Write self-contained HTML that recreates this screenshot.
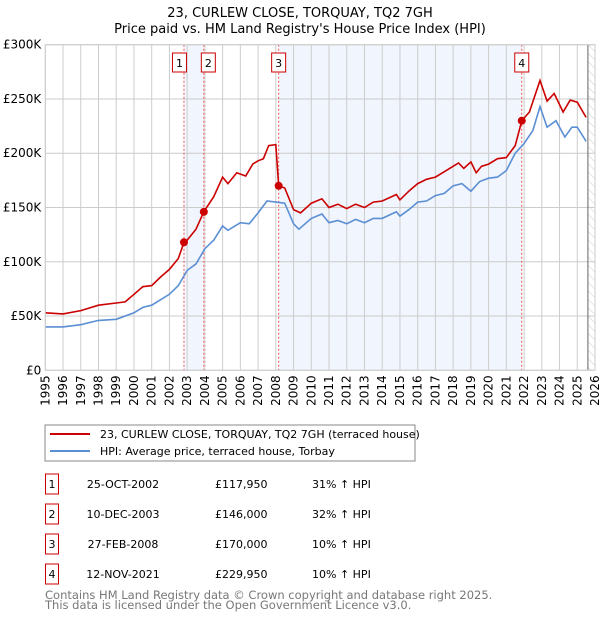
<!DOCTYPE html>
<html><head><meta charset="utf-8"><style>
body{margin:0;width:600px;height:620px;background:#fff;font-family:"DejaVu Sans","Liberation Sans",sans-serif;overflow:hidden}
svg text{font-family:"DejaVu Sans","Liberation Sans",sans-serif}
</style></head><body>
<svg id="c" width="600" height="620">
<defs><pattern id="hatch" width="6" height="6" patternUnits="userSpaceOnUse" patternTransform="rotate(-45)"><line x1="0" y1="0" x2="0" y2="6" stroke="#ccc" stroke-width="1"/></pattern></defs>
<text x="300" y="17" text-anchor="middle" font-size="13">23, CURLEW CLOSE, TORQUAY, TQ2 7GH</text>
<text x="300" y="33" text-anchor="middle" font-size="13">Price paid vs. HM Land Registry's House Price Index (HPI)</text>
<g id="plot"></g>
<rect x="45" y="425" width="370" height="36" fill="#fff" stroke="#888"/>
<line x1="50" y1="434" x2="90" y2="434" stroke="#cc0000" stroke-width="2"/>
<text x="100" y="438" font-size="11">23, CURLEW CLOSE, TORQUAY, TQ2 7GH (terraced house)</text>
<line x1="50" y1="451" x2="90" y2="451" stroke="#5b8fd4" stroke-width="2"/>
<text x="100" y="455" font-size="11">HPI: Average price, terraced house, Torbay</text>
<g id="tbl"></g>
<text x="45" y="599" font-size="11.5" fill="#777">Contains HM Land Registry data © Crown copyright and database right 2025.</text>
<text x="45" y="609" font-size="11.5" fill="#777">This data is licensed under the Open Government Licence v3.0.</text>
</svg>
<script>
const hpiYears=[1995,1996,1997,1998,1999,2000,2000.5,2001,2002,2002.5,2003,2003.5,2004,2004.5,2005,2005.3,2006,2006.5,2007,2007.5,2008,2008.5,2009,2009.3,2010,2010.6,2011,2011.5,2012,2012.5,2013,2013.5,2014,2014.8,2015,2015.5,2016,2016.5,2017,2017.5,2018,2018.5,2019,2019.5,2020,2020.5,2021,2021.5,2022,2022.5,2022.9,2023.3,2023.8,2024.3,2024.7,2025,2025.5];
const hpiValues=[40,40,42,46,47,53,58,60,70,78,92,98,112,120,133,129,136,135,145,156,155,154,135,130,140,144,136,138,135,139,136,140,140,146,142,148,155,156,161,163,170,172,165,174,177,178,184,200,209,221,243,224,230,215,224,224,211];
const propYears=[1995,1996,1997,1998,1999,1999.5,2000,2000.5,2001,2001.5,2002,2002.5,2002.82,2003,2003.5,2003.94,2004.5,2005,2005.3,2005.8,2006.3,2006.7,2007,2007.3,2007.6,2008.0,2008.16,2008.5,2009,2009.4,2010,2010.6,2011,2011.5,2012,2012.5,2013,2013.5,2014,2014.8,2015,2015.5,2016,2016.5,2017,2017.5,2018,2018.3,2018.6,2019,2019.3,2019.6,2020,2020.5,2021,2021.5,2021.87,2022.3,2022.9,2023.3,2023.7,2024.2,2024.6,2025.0,2025.5];
const propValues=[53,52,55,60,62,63,70,77,78,86,93,103,117.95,120,130,146,160,178,172,182,179,190,193,195,207,208,170,168,148,145,154,158,150,153,149,153,150,155,156,162,157,165,172,176,178,183,188,191,186,192,182,188,190,195,196,207,229.95,238,267,248,255,238,249,247,233];
const saleYears=[2002.82,2003.94,2008.16,2021.87];
const saleValues=[117.95,146,170,229.95];
const saleLabels=["1","2","3","4"];
const saleDates=["25-OCT-2002","10-DEC-2003","27-FEB-2008","12-NOV-2021"];
const salePrices=["£117,950","£146,000","£170,000","£229,950"];
const salePct=["31% ↑ HPI","32% ↑ HPI","10% ↑ HPI","10% ↑ HPI"];
const yTicks=[0,50,100,150,200,250,300];
const yTickLabels=["£0","£50K","£100K","£150K","£200K","£250K","£300K"];
const xTicks=[1995,1996,1997,1998,1999,2000,2001,2002,2003,2004,2005,2006,2007,2008,2009,2010,2011,2012,2013,2014,2015,2016,2017,2018,2019,2020,2021,2022,2023,2024,2025,2026];
const dataEnd=2025.6;

const X0=45.3,X1=595,Y0=370.3,Y1=44.7;
const xs=v=>X0+(v-1995)/(2026-1995)*(X1-X0);
const ys=v=>Y0-v/300*(Y0-Y1);
const NS="http://www.w3.org/2000/svg";
const plot=document.getElementById('plot');
function mk(tag,attrs,parent){const e=document.createElementNS(NS,tag);for(const k in attrs)e.setAttribute(k,attrs[k]);(parent||plot).appendChild(e);return e;}

// shaded regions
for(let i=0;i<saleYears.length;i+=2){
  const r=mk('rect',{x:xs(saleYears[i]),y:Y1,width:xs(saleYears[i+1]!==undefined?saleYears[i+1]:dataEnd)-xs(saleYears[i]),height:Y0-Y1,fill:'#eef3fc',opacity:0.8});
  
  
}
// hatch
const h=mk('rect',{x:xs(dataEnd),y:Y1,width:X1-xs(dataEnd),height:Y0-Y1,fill:'url(#hatch)'});


// gridlines
yTicks.forEach((t,i)=>{
  const l=mk('line',{x1:X0,x2:X1,y1:ys(t),y2:ys(t),stroke:'#ccc'});
  
  
  const tx=mk('text',{x:X0-4,y:ys(t)+4,'text-anchor':'end','font-size':12});
  tx.textContent=yTickLabels[i];
  
  
});
xTicks.forEach(t=>{
  const l=mk('line',{x1:xs(t),x2:xs(t),y1:Y1,y2:Y0,stroke:'#ccc'});
  
  
  const tx=mk('text',{x:0,y:0,'text-anchor':'end','font-size':12,transform:`translate(${xs(t)+4},${Y0+5}) rotate(-90)`});
  tx.textContent=t;
  
  
});
const el=mk('line',{x1:xs(dataEnd),x2:xs(dataEnd),y1:Y1,y2:Y0,stroke:'#666'});


// sale vlines
saleYears.forEach(s=>{
  const l=mk('line',{x1:xs(s),x2:xs(s),y1:Y1,y2:Y0,stroke:'#e55','stroke-dasharray':'2,2'});
  
  
});
// series
const path=(a,b)=>a.map((v,i)=>(i?'L':'M')+xs(v).toFixed(1)+','+ys(b[i]).toFixed(1)).join('');
const hp=mk('path',{d:path(hpiYears,hpiValues),fill:'none',stroke:'#5b8fd4','stroke-width':1.6});


const pp=mk('path',{d:path(propYears,propValues),fill:'none',stroke:'#cc0000','stroke-width':1.6});


saleYears.forEach((s,i)=>{
  const c=mk('circle',{cx:xs(s),cy:ys(saleValues[i]),r:4,fill:'#cc0000'});
  
  
  const bx=xs(s)-(i<2?[4.5,-4.5][i]:0);
  const r=mk('rect',{x:bx-7,y:53,width:14,height:19,fill:'#fff',stroke:'#cc0000'});
  
  
  const t=mk('text',{x:bx,y:67,'text-anchor':'middle','font-size':11});
  t.textContent=saleLabels[i];
  
  
});
const bd=mk('rect',{x:X0,y:Y1,width:X1-X0,height:Y0-Y1,fill:'none',stroke:'#ccc'});


// table
const tbl=document.getElementById('tbl');
saleLabels.forEach((lab,i)=>{
  const cy=484+i*30;
  const r=mk('rect',{x:45.5,y:cy-10,width:13,height:20,fill:'#fff',stroke:'#cc0000'},tbl);
  
  
  const cells=[[52,lab,'middle'],[123,saleDates[i],'middle'],[215,salePrices[i],'start'],[312,salePct[i],'start']];
  cells.forEach(([x,s,a])=>{
    const t=mk('text',{x:x,y:cy+4,'text-anchor':a,'font-size':11},tbl);
    t.textContent=s;
    
    
  });
});
</script>
</body></html>
